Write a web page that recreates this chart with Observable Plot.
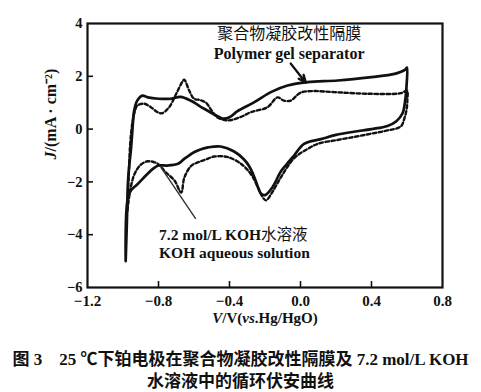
<!DOCTYPE html>
<html><head><meta charset="utf-8">
<script src="https://cdn.jsdelivr.net/npm/d3@7"></script>
<script src="https://cdn.jsdelivr.net/npm/@observablehq/plot@0.6"></script>
<style>
body{margin:0;background:#fff;}
#cap{font-family:"Liberation Serif","Noto Sans CJK SC",serif;font-weight:bold;font-size:17px;line-height:22px;text-align:center;color:#111;margin-top:9px;width:481px;white-space:nowrap}
</style></head><body>
<div id="chart"></div>
<div id="cap"><div>图 3　25 ℃下铂电极在聚合物凝胶改性隔膜及 7.2 mol/L KOH</div><div>水溶液中的循环伏安曲线</div></div>
<script>
const xTicks = [-1.2, -0.8, -0.4, 0.0, 0.4, 0.8];
const yTicks = [4, 2, 0, -2, -4, -6];
const xInnerTicks = [-0.8, -0.4, 0.0, 0.4];
const yInnerTicks = [2, 0, -2, -4];

// Polymer gel separator (solid), closed CV loop
const gelV = [-0.985, -0.978, -0.972, -0.962, -0.955, -0.947, -0.937, -0.92, -0.89, -0.86, -0.80, -0.73, -0.675, -0.62, -0.545, -0.47, -0.44, -0.40, -0.355, -0.26, -0.167, -0.073, 0.04, 0.21, 0.40, 0.53, 0.59, 0.60,
  0.598, 0.59, 0.575, 0.54, 0.49, 0.40, 0.30, 0.20, 0.115, 0.02, -0.036, -0.08, -0.11, -0.158, -0.20, -0.222, -0.24, -0.26, -0.29, -0.318, -0.374, -0.45, -0.52, -0.56, -0.60, -0.655, -0.69, -0.75, -0.80, -0.83, -0.87, -0.92, -0.956, -0.975, -0.985];
const gelJ = [-5.0, -3.5, -2.0, -1.2, -0.75, -0.05, 0.70, 1.08, 1.27, 1.20, 1.15, 1.15, 1.22, 1.08, 0.78, 0.50, 0.40, 0.45, 0.68, 1.02, 1.40, 1.65, 1.78, 1.84, 1.97, 2.09, 2.25, 2.33,
  1.7, 1.1, 0.6, 0.3, 0.12, 0.0, -0.1, -0.22, -0.38, -0.56, -1.0, -1.35, -1.6, -2.2, -2.5, -2.45, -2.2, -1.82, -1.4, -1.15, -0.85, -0.66, -0.69, -0.76, -0.875, -1.13, -1.31, -1.38, -1.38, -1.5, -1.75, -2.1, -2.33, -2.7, -5.0];

// 7.2 mol/L KOH aqueous solution (dashed), closed CV loop
const kohV = [-0.975, -0.968, -0.96, -0.952, -0.945, -0.93, -0.918, -0.88, -0.843, -0.805, -0.78, -0.74, -0.70, -0.665, -0.655, -0.627, -0.60, -0.565, -0.533, -0.50, -0.47, -0.41, -0.34, -0.28, -0.186, -0.13, -0.094, -0.055, 0.0, 0.075, 0.19, 0.38, 0.565, 0.60,
  0.602, 0.598, 0.585, 0.565, 0.49, 0.40, 0.30, 0.20, 0.10, 0.04, -0.036, -0.11, -0.16, -0.195, -0.22, -0.24, -0.28, -0.336, -0.41, -0.487, -0.533, -0.575, -0.617, -0.655, -0.672, -0.71, -0.76, -0.805, -0.86, -0.90, -0.935, -0.956, -0.97, -0.975];
const kohJ = [-3.1, -1.8, -0.6, 0.0, 0.33, 0.75, 0.90, 0.96, 0.83, 0.64, 0.60, 0.83, 1.34, 1.80, 1.87, 1.46, 1.15, 1.10, 1.00, 0.70, 0.45, 0.33, 0.45, 0.64, 0.83, 1.20, 1.08, 1.08, 1.38, 1.44, 1.40, 1.34, 1.36, 1.46,
  1.1, 0.75, 0.4, 0.1, -0.05, -0.17, -0.30, -0.42, -0.55, -0.75, -1.1, -1.82, -2.4, -2.7, -2.5, -2.2, -1.7, -1.31, -1.06, -1.04, -1.15, -1.25, -1.4, -1.85, -2.4, -1.95, -1.63, -1.31, -1.22, -1.35, -1.7, -2.2, -2.8, -3.1];

const gelLabelZh = "聚合物凝胶改性隔膜";
const gelLabelEn = "Polymer gel separator";
const kohLabel1 = "7.2 mol/L KOH水溶液";
const kohLabel2 = "KOH aqueous solution";
const xLabel = "V/V(vs.Hg/HgO)";
const yLabel = "J/(mA · cm⁻²)";

const gelArrowV = [-0.055, 0.03];
const gelArrowJ = [2.48, 1.76];
const kohLeaderV = [-0.787, -0.59];
const kohLeaderJ = [-1.44, -3.4];

const gel = gelV.map((v, i) => ({v, j: gelJ[i]}));
const koh = kohV.map((v, i) => ({v, j: kohJ[i]}));
const serif = "Liberation Serif, Times New Roman, serif";
const cjk = "Noto Sans CJK SC, sans-serif";
const mixed = "Liberation Serif, Noto Sans CJK SC, serif";
const ink = "#111";

const plot = Plot.plot({
  width: 481, height: 340,
  marginLeft: 87, marginRight: 39, marginTop: 23, marginBottom: 53,
  style: {fontFamily: serif, fontSize: "15px", fontWeight: "bold", color: ink, background: "#fff"},
  x: {domain: [-1.2, 0.8]},
  y: {domain: [-6, 4]},
  marks: [
    Plot.frame({stroke: ink, strokeWidth: 2.2}),
    Plot.axisX({ticks: xTicks, tickSize: 0, tickPadding: 8, label: null,
      tickFormat: d => (d < 0 ? "−" : "") + Math.abs(d).toFixed(1)}),
    Plot.axisY({ticks: yTicks, tickSize: 0, tickPadding: 5, label: null, fontSize: 14.5,
      tickFormat: d => (d < 0 ? "−" : "") + Math.abs(d)}),
    Plot.tickY(yInnerTicks, {y: d => d, insetRight: 349, stroke: ink, strokeWidth: 1.6}),
    Plot.tickX(xInnerTicks, {x: d => d, insetTop: 258, stroke: ink, strokeWidth: 1.6}),
    Plot.line(koh, {x: "v", y: "j", curve: "catmull-rom", stroke: ink, strokeWidth: 2.4, strokeDasharray: "3.5,2.5"}),
    Plot.line(gel, {x: "v", y: "j", curve: "catmull-rom", stroke: ink, strokeWidth: 2.7}),
    Plot.arrow([0], {x1: () => gelArrowV[0], y1: () => gelArrowJ[0], x2: () => gelArrowV[1], y2: () => gelArrowJ[1],
      stroke: ink, strokeWidth: 2.4, headLength: 10, headAngle: 45}),
    Plot.link([0], {x1: () => kohLeaderV[0], y1: () => kohLeaderJ[0], x2: () => kohLeaderV[1], y2: () => kohLeaderJ[1],
      stroke: "#333", strokeWidth: 1.4}),
    Plot.text([gelLabelZh], {text: d => d, x: () => -0.064, y: () => 3.6, fontFamily: cjk, fontWeight: "normal", fontSize: 16}),
    Plot.text([gelLabelEn], {text: d => d, x: () => -0.064, y: () => 2.85, fontFamily: serif, fontWeight: "bold", fontSize: 16}),
    Plot.text([kohLabel1], {text: d => d, x: () => -0.797, y: () => -4.02, textAnchor: "start", fontFamily: mixed, fontWeight: "bold", fontSize: 15.5}),
    Plot.text([kohLabel2], {text: d => d, x: () => -0.797, y: () => -4.7, textAnchor: "start", fontFamily: serif, fontWeight: "bold", fontSize: 15.5}),
    Plot.text([xLabel], {text: d => d, x: () => -0.2, frameAnchor: "bottom", dy: 35, fontFamily: serif, fontWeight: "bold", fontSize: 15}),
    Plot.text([yLabel], {text: d => d, y: () => -1.15, frameAnchor: "left", dx: -37, rotate: -90, fontFamily: serif, fontWeight: "bold", fontSize: 16})
  ]
});
document.getElementById("chart").appendChild(plot);

function restyle(full, parts) {
  d3.select(plot).selectAll("text").filter(function() { return this.textContent === full; })
    .each(function() {
      const t = d3.select(this);
      t.text(null);
      parts.forEach(([s, st]) => {
        const sp = t.append("tspan").text(s);
        if (st === "i") sp.attr("font-style", "italic");
        if (st === "n") sp.attr("font-weight", "normal").attr("font-family", cjk);
      });
    });
}
restyle(xLabel, [["V", "i"], ["/V(", ""], ["vs", "i"], [".Hg/HgO)", ""]]);
restyle(yLabel, [["J", "i"], ["/(mA · cm⁻²)", ""]]);
restyle(kohLabel1, [["7.2 mol/L KOH", ""], ["水溶液", "n"]]);
</script>
</body></html>
